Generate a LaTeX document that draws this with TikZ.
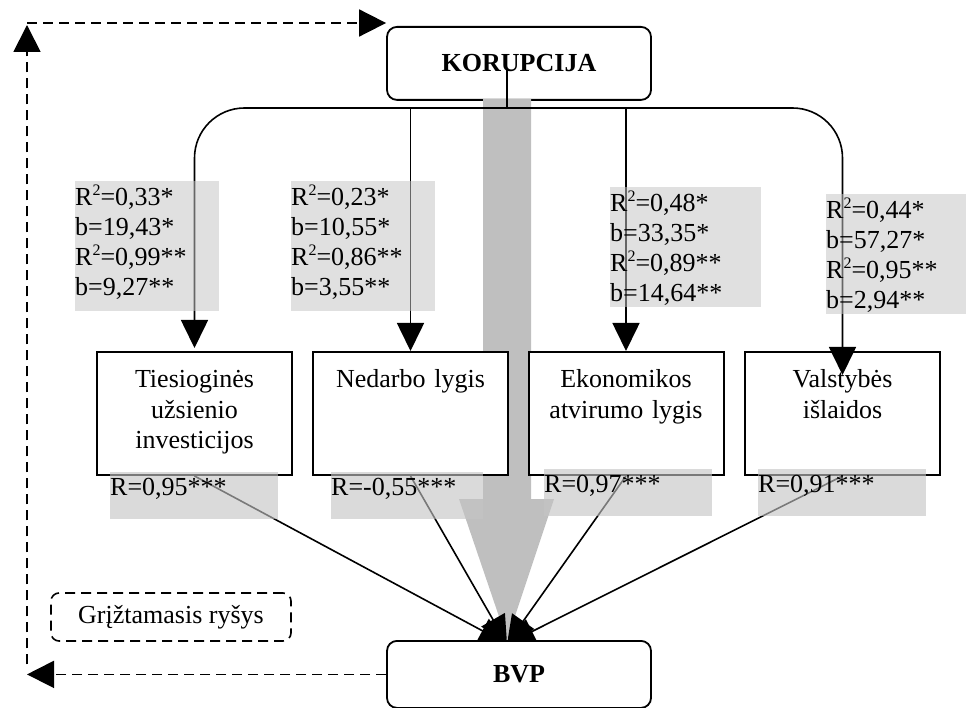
\documentclass[tikz,border=0pt]{standalone}
\usepackage{fontspec}
\setmainfont{Liberation Serif}
\usetikzlibrary{arrows.meta,calc}
\newcommand{\sq}{\raisebox{0.8ex}{\fontsize{16}{16}\selectfont 2}}
\tikzset{
  every node/.style={font=\fontsize{26}{30}\selectfont},
  mainbox/.style={draw, line width=1.8pt, rounded corners=10pt, fill=white,
    minimum width=264pt, anchor=north},
  factor/.style={draw, line width=2pt, fill=white, anchor=north,
    text width=185pt, inner sep=5pt, align=center,
    text height=31pt, text depth=82pt},
  coef/.style={fill=black!23, fill opacity=0.52, text opacity=1,
    inner sep=0pt, anchor=north west, align=left, text height=24pt},
  rval/.style={fill=black!23, fill opacity=0.62, text opacity=1,
    inner sep=0pt, anchor=north west, align=left, text width=168pt,
    text height=23pt, text depth=24pt},
  link/.style={line width=1.6pt, -{Triangle[width=27pt,length=28pt]}},
  feedback/.style={line width=1.8pt, dash pattern=on 10pt off 6pt,
    -{Triangle[width=27pt,length=27pt]}},
}
\begin{document}
\begin{tikzpicture}[x=1pt,y=-1pt]
  \useasboundingbox (0,0) rectangle (966,708);

  \node[mainbox, minimum height=73pt] (kor) at (519,26) {\textbf{KORUPCIJA}};
  \coordinate (bus) at (507,108);
  \coordinate (hub) at (507,644);

  % wide grey arrow KORUPCIJA -> BVP
  \coordinate (gtop) at (507,99);
  \coordinate (gtip) at (507,640);
  \fill[black!25] ($(gtop)+(-24,0)$) -- ($(gtop)+(24,0)$) -- ($(gtop)+(24,400)$)
    -- ($(gtop)+(47,400)$) -- (gtip) -- ($(gtop)+(-48,400)$) -- ($(gtop)+(-24,400)$) -- cycle;

  % factors
  \node[factor] (tui) at (194.5,351) {Tiesioginės\\užsienio\\investicijos};
  \node[factor] (ndl) at (410.5,351) {Nedarbo lygis};
  \node[factor] (eal) at (626,351) {Ekonomikos\\atvirumo lygis};
  \node[factor] (vis) at (842.5,351) {Valstybės\\išlaidos};

  % KORUPCIJA -> factors
  \draw[line width=1.6pt] ([xshift=-12pt,yshift=-7pt]kor.center) -- (bus);
  \draw[line width=1.6pt, rounded corners=50pt,
    {Triangle[width=27pt,length=28pt]}-{Triangle[width=27pt,length=28pt]}]
    ([yshift=3pt]tui.north) |- (bus) -| ([yshift=-24pt]vis.north);
  \draw[link] (ndl.north |- bus) -- (ndl.north);
  \draw[link] (eal.north |- bus) -- (eal.north);

  % factors -> BVP
  \foreach \f in {tui,ndl,eal,vis}
    \draw[link] (\f.south) -- (hub);

  \node[mainbox, minimum height=67pt] (bvp) at (519,640) {\textbf{BVP}};

  % regression results
  \node[coef, text width=144pt, text depth=106pt] (ctui) at (75,181)
    {R\sq=0,33*\\b=19,43*\\R\sq=0,99**\\b=9,27**};
  \node[coef, text width=144pt, text depth=106pt] (cndl) at (291,181)
    {R\sq=0,23*\\b=10,55*\\R\sq=0,86**\\b=3,55**};
  \node[coef, text width=151pt, text depth=96pt] (ceal) at (610,187)
    {R\sq=0,48*\\b=33,35*\\R\sq=0,89**\\b=14,64**};
  \node[coef, text width=140pt, text depth=96pt] (cvis) at (826,194)
    {R\sq=0,44*\\b=57,27*\\R\sq=0,95**\\b=2,94**};

  % correlations
  \node[rval] (rtui) at (110,472) {R=0,95***};
  \node[rval, text width=152pt] (rndl) at (331,472) {R=-0,55***};
  \node[rval] (real) at (544,469) {R=0,97***};
  \node[rval] (rvis) at (758,469) {R=0,91***};

  % feedback loop
  \coordinate (fbc) at (27,23);
  \draw[feedback] (bvp.west) -- (bvp.west -| fbc);
  \draw[feedback] ([yshift=10pt]bvp.west -| fbc) -- ([yshift=-2pt]fbc);
  \draw[feedback] (fbc) -- (fbc -| kor.west);
  \node[draw, line width=1.6pt, dash pattern=on 10pt off 6pt, rounded corners=8pt,
    minimum width=240pt, minimum height=48pt] (grs) at (171,617) {Grįžtamasis ryšys};
\end{tikzpicture}
\end{document}
